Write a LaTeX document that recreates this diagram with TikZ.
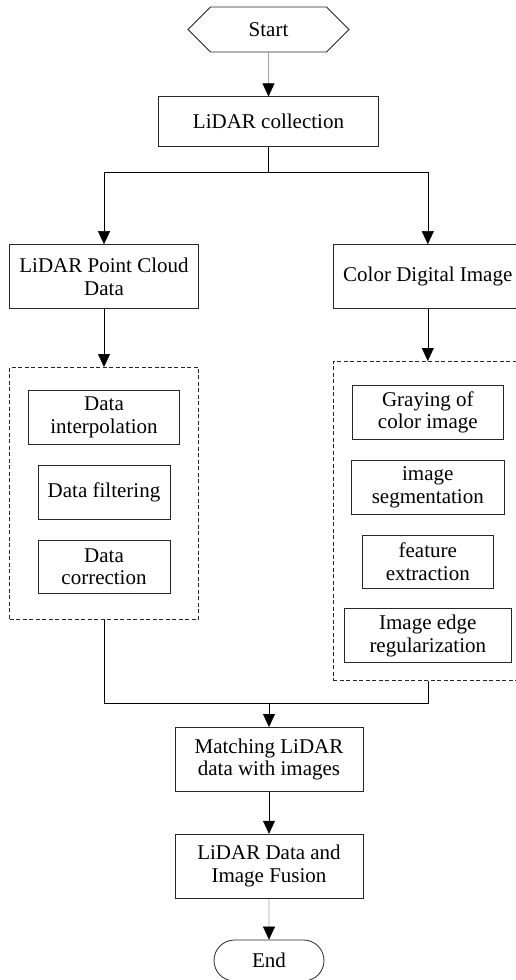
\documentclass[tikz,border=0pt]{standalone}
\usepackage{fontspec}
\setmainfont{Liberation Serif}
\usetikzlibrary{
  arrows.meta,     % filled triangle arrow heads
  positioning,     % positions like below of node
  shapes.symbols,  % signal shape for the start node
  shapes.misc      % rounded rectangle for the end node
}
\tikzset{
    node distance=20pt and 20pt,
    every node/.style = {
        rectangle,
        draw=black!85,
        line width=0.8pt,
        align=center,
        inner sep=2pt,
        font=\fontsize{21}{22.5}\selectfont
    },
    proc/.append style = {minimum width=189pt, minimum height=64pt},
    step1/.append style = {minimum width=220pt, minimum height=50pt},
    sub/.append style = {minimum height=54pt},
    group/.append style = {dashed, dash pattern=on 4pt off 2.5pt, minimum width=189pt},
    term/.append style = {signal, signal to=west and east, minimum width=161pt, minimum height=45pt},
    stop/.append style = {rounded rectangle, minimum width=114pt, minimum height=41pt},
    line width=0.8pt,
    draw=black!80,
    ->,        % arrows for all
    >={Triangle[width=12pt,length=13pt]}  % arrow type
}

\begin{document}
\begin{tikzpicture}[x=1pt, y=1pt]
  \useasboundingbox (0,0) rectangle (515,-980);

  %% top
  \node [term] (start) at (268.5,-29.5) {Start};
  \node [step1, below=44pt of start] (collect) {LiDAR collection};
  \coordinate [below=25pt of collect] (split);
  \draw (start) to (collect);


  %% two branches
  \node [proc, below=97pt of collect, xshift=-164.5pt] (pcd) {LiDAR Point Cloud\\Data};
  \node [proc, right=134pt of pcd] (cdi) {Color Digital Image};

  \draw [-] (collect) -- (split);
  \draw (split) -| (pcd);
  \draw (split) -| (cdi);


  %% point cloud processing
  \node [group, below=58pt of pcd, minimum height=252pt] (lfit) {};
  \node [sub, minimum width=151pt, below=23pt of lfit.north] (interp) {Data\\interpolation};
  \node [sub, minimum width=132pt, below=of interp] (filter) {Data filtering};
  \node [sub, minimum width=132pt, below=of filter, minimum height=53pt] (correct) {Data\\correction};

  \draw (pcd) to (lfit);


  %% image processing
  \node [group, below=52pt of cdi, minimum height=319pt] (rfit) {};
  \node [sub, minimum width=151pt, below=24pt of rfit.north] (gray) {Graying of\\color image};
  \node [sub, minimum width=153pt, below=of gray] (seg) {image\\segmentation};
  \node [sub, minimum width=131pt, below=of seg, minimum height=53pt] (feat) {feature\\extraction};
  \node [sub, minimum width=167pt, below=of feat] (edge) {Image edge\\regularization};

  \draw (cdi) to (rfit);


  %% fusion
  \coordinate (merge) at (269,-703);
  \node [proc, minimum width=188pt, below=24pt of merge] (match) {Matching LiDAR\\data with images};
  \node [proc, minimum width=188pt, below=42pt of match] (fusion) {LiDAR Data and\\Image Fusion};
  \node [stop, below=41pt of fusion] (end) {End};

  \draw [-] (lfit) |- (merge);
  \draw [-] (rfit) |- (merge);
  \draw (merge) to (match);
  \draw (match) to (fusion);
  \draw (fusion) to (end);

\end{tikzpicture}
\end{document}
